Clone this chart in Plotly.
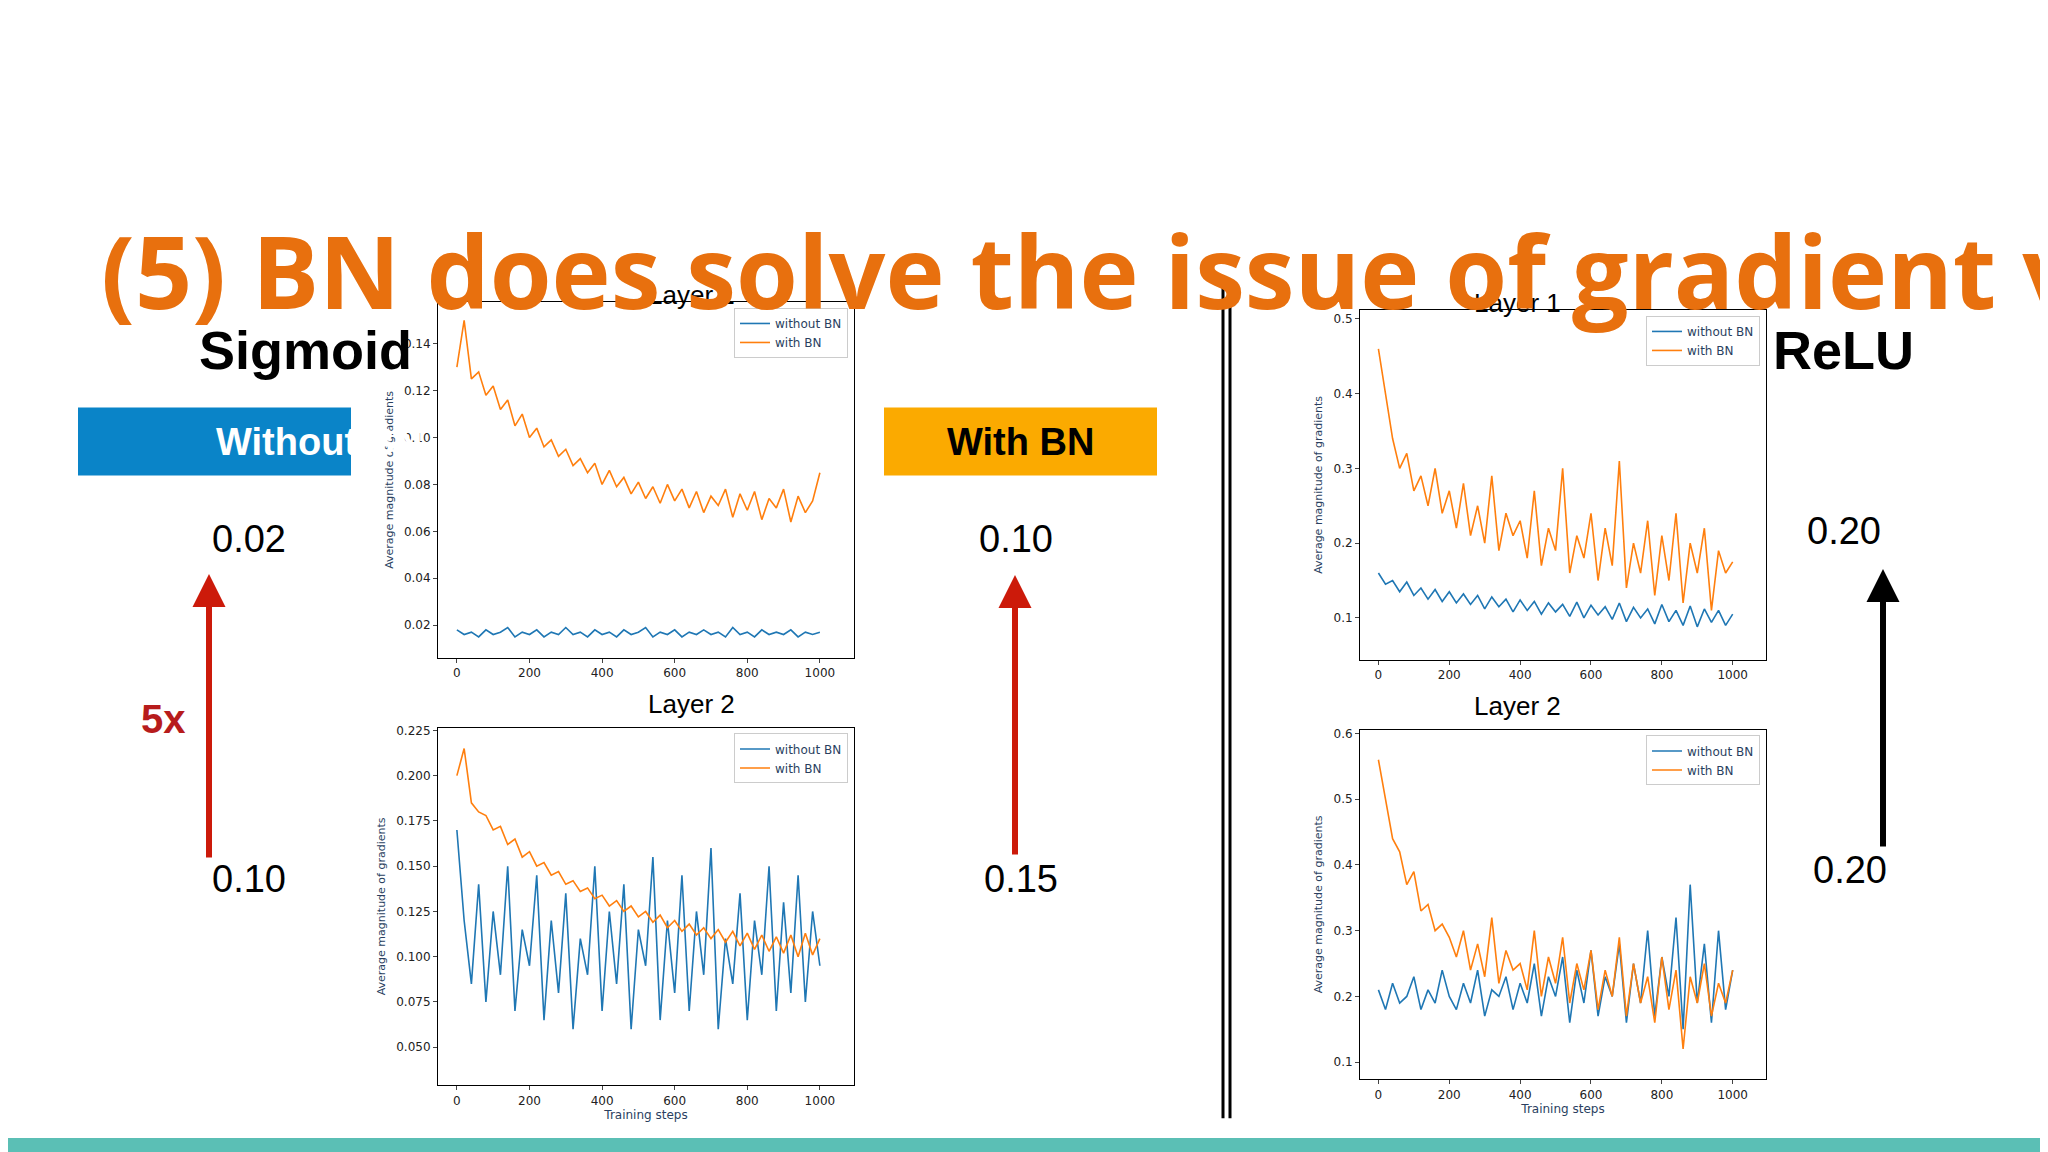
import plotly.graph_objects as go

W, H = 2048, 1152
BLUE = '#1f77b4'
ORANGE = '#ff7f0e'

steps = list(range(0, 1001, 20))

sig1_without = [0.018, 0.016, 0.017, 0.015, 0.018, 0.016, 0.017, 0.019, 0.015, 0.017,
                0.016, 0.018, 0.015, 0.017, 0.016, 0.019, 0.016, 0.017, 0.015, 0.018,
                0.016, 0.017, 0.015, 0.018, 0.016, 0.017, 0.019, 0.015, 0.017, 0.016,
                0.018, 0.015, 0.017, 0.016, 0.018, 0.016, 0.017, 0.015, 0.019, 0.016,
                0.017, 0.015, 0.018, 0.016, 0.017, 0.016, 0.018, 0.015, 0.017, 0.016,
                0.017]
sig1_with = [0.130, 0.150, 0.125, 0.128, 0.118, 0.122, 0.112, 0.116, 0.105, 0.110,
             0.100, 0.104, 0.096, 0.099, 0.092, 0.095, 0.088, 0.091, 0.085, 0.089,
             0.080, 0.086, 0.079, 0.083, 0.076, 0.081, 0.074, 0.079, 0.072, 0.080,
             0.073, 0.078, 0.070, 0.077, 0.068, 0.075, 0.071, 0.078, 0.066, 0.076,
             0.069, 0.077, 0.065, 0.074, 0.070, 0.078, 0.064, 0.075, 0.068, 0.073,
             0.085]
sig2_without = [0.170, 0.120, 0.085, 0.140, 0.075, 0.125, 0.090, 0.150, 0.070, 0.115,
                0.095, 0.145, 0.065, 0.120, 0.080, 0.135, 0.060, 0.110, 0.090, 0.150,
                0.070, 0.125, 0.085, 0.140, 0.060, 0.115, 0.095, 0.155, 0.065, 0.120,
                0.080, 0.145, 0.070, 0.125, 0.090, 0.160, 0.060, 0.110, 0.085, 0.135,
                0.065, 0.120, 0.090, 0.150, 0.070, 0.130, 0.080, 0.145, 0.075, 0.125,
                0.095]
sig2_with = [0.200, 0.215, 0.185, 0.180, 0.178, 0.170, 0.172, 0.162, 0.165, 0.155,
             0.158, 0.150, 0.152, 0.145, 0.147, 0.140, 0.142, 0.136, 0.138, 0.132,
             0.134, 0.128, 0.131, 0.125, 0.128, 0.122, 0.125, 0.119, 0.123, 0.116,
             0.120, 0.114, 0.118, 0.112, 0.116, 0.110, 0.115, 0.108, 0.114, 0.106,
             0.113, 0.104, 0.112, 0.103, 0.111, 0.102, 0.112, 0.100, 0.113, 0.101,
             0.110]
relu1_without = [0.160, 0.145, 0.150, 0.135, 0.148, 0.130, 0.140, 0.125, 0.138, 0.122,
                 0.135, 0.120, 0.132, 0.118, 0.130, 0.112, 0.128, 0.115, 0.125, 0.108,
                 0.124, 0.110, 0.122, 0.105, 0.120, 0.108, 0.118, 0.102, 0.121, 0.100,
                 0.117, 0.104, 0.115, 0.098, 0.120, 0.095, 0.114, 0.100, 0.112, 0.092,
                 0.118, 0.095, 0.110, 0.090, 0.116, 0.088, 0.112, 0.094, 0.110, 0.090,
                 0.105]
relu1_with = [0.460, 0.400, 0.340, 0.300, 0.320, 0.270, 0.290, 0.250, 0.300, 0.240,
              0.270, 0.220, 0.280, 0.210, 0.250, 0.200, 0.290, 0.190, 0.240, 0.210,
              0.230, 0.180, 0.270, 0.170, 0.220, 0.190, 0.300, 0.160, 0.210, 0.180,
              0.240, 0.150, 0.220, 0.170, 0.310, 0.140, 0.200, 0.160, 0.230, 0.130,
              0.210, 0.150, 0.240, 0.120, 0.200, 0.160, 0.220, 0.110, 0.190, 0.160,
              0.175]
relu2_without = [0.210, 0.180, 0.220, 0.190, 0.200, 0.230, 0.180, 0.210, 0.190, 0.240,
                 0.200, 0.180, 0.220, 0.190, 0.240, 0.170, 0.210, 0.200, 0.230, 0.180,
                 0.220, 0.190, 0.250, 0.170, 0.230, 0.200, 0.260, 0.160, 0.240, 0.190,
                 0.270, 0.170, 0.230, 0.200, 0.280, 0.160, 0.250, 0.190, 0.300, 0.170,
                 0.260, 0.200, 0.320, 0.150, 0.370, 0.190, 0.280, 0.160, 0.300, 0.180,
                 0.240]
relu2_with = [0.560, 0.500, 0.440, 0.420, 0.370, 0.390, 0.330, 0.340, 0.300, 0.310,
              0.290, 0.260, 0.300, 0.240, 0.280, 0.230, 0.320, 0.220, 0.270, 0.240,
              0.250, 0.210, 0.300, 0.200, 0.260, 0.220, 0.290, 0.190, 0.250, 0.210,
              0.270, 0.180, 0.240, 0.200, 0.290, 0.170, 0.250, 0.190, 0.230, 0.160,
              0.260, 0.180, 0.240, 0.120, 0.230, 0.190, 0.250, 0.170, 0.220, 0.190,
              0.240]


def px(x):
    return x / W


def py(y):
    return 1 - y / H


# (name, box px [x0, x1, y0, y1], y range, tick values, tick format, series, xlabel)
panels = [
    ('Layer 1', (430, 846, 291, 648), [0.0061, 0.1578], [0.02, 0.04, 0.06, 0.08, 0.10, 0.12, 0.14],
     '.2f', sig1_without, sig1_with, False),
    ('Layer 2', (430, 846, 718, 1077), [0.029, 0.2266],
     [0.05, 0.075, 0.1, 0.125, 0.15, 0.175, 0.2, 0.225], '.3f', sig2_without, sig2_with, True),
    ('Layer 1', (1352, 1758, 299, 650), [0.044, 0.512], [0.1, 0.2, 0.3, 0.4, 0.5],
     '.1f', relu1_without, relu1_with, False),
    ('Layer 2', (1352, 1758, 720, 1071), [0.074, 0.606], [0.1, 0.2, 0.3, 0.4, 0.5, 0.6],
     '.1f', relu2_without, relu2_with, True),
]

fig = go.Figure()
layout = {}
annotations = []
for i, (name, box, yr, tv, tf, s_no, s_bn, xlab) in enumerate(panels):
    n = i + 1
    sx = '' if n == 1 else str(n)
    leg = 'legend' if n == 1 else 'legend' + str(n)
    x0, x1, y0, y1 = box
    fig.add_trace(go.Scatter(x=steps, y=s_no, mode='lines', name='without BN',
                             line=dict(color=BLUE, width=1.6),
                             xaxis='x' + sx, yaxis='y' + sx, legend=leg))
    fig.add_trace(go.Scatter(x=steps, y=s_bn, mode='lines', name='with BN',
                             line=dict(color=ORANGE, width=1.6),
                             xaxis='x' + sx, yaxis='y' + sx, legend=leg))
    axis_common = dict(showline=True, linecolor='black', linewidth=1, mirror=True,
                       ticks='outside', ticklen=4, showgrid=False, zeroline=False,
                       tickfont=dict(size=12, color='#222', family='DejaVu Sans'))
    layout['xaxis' + sx] = dict(domain=[px(x0), px(x1)], anchor='y' + sx, range=[-52, 1094],
                                tickvals=[0, 200, 400, 600, 800, 1000],
                                title=dict(text='Training steps' if xlab else '',
                                           font=dict(size=12, family='DejaVu Sans'),
                                           standoff=2),
                                **axis_common)
    layout['yaxis' + sx] = dict(domain=[py(y1), py(y0)], anchor='x' + sx, range=yr,
                                tickvals=tv, tickformat=tf,
                                title=dict(text='Average magnitude of gradients',
                                           font=dict(size=11, family='DejaVu Sans'),
                                           standoff=8),
                                **axis_common)
    layout[leg] = dict(x=px(x1 - 6), y=py(y0 + 6), xanchor='right', yanchor='top',
                       bgcolor='white', bordercolor='#ccc', borderwidth=1,
                       font=dict(size=12, family='DejaVu Sans'), tracegroupgap=0)
    annotations.append(dict(text=name, x=px((x0 + x1) / 2), y=py(y0 - 24), xref='paper',
                            yref='paper', showarrow=False,
                            font=dict(size=26, color='black', family='Liberation Sans')))

fig.update_layout(**layout)

sans = 'Liberation Sans'
texts = [
    ('Sigmoid', 189, 307, 54, 'black', True),
    ('ReLU', 1908, 307, 54, 'black', True),
    ('0.02', 202, 529, 38, 'black', False),
    ('0.10', 202, 893, 38, 'black', False),
    ('0.10', 1008, 529, 38, 'black', False),
    ('0.15', 1013, 893, 38, 'black', False),
    ('0.20', 1875, 521, 38, 'black', False),
    ('0.20', 1881, 884, 38, 'black', False),
    ('5x', 131, 709, 40, '#b71c1c', True),
]
for t, x, y, size, col, bold in texts:
    annotations.append(dict(text='<b>%s</b>' % t if bold else t, x=px(x), y=py(y),
                            xref='paper', yref='paper', showarrow=False,
                            font=dict(size=size, color=col, family=sans)))

annotations.append(dict(text='<b>(5) BN does solve the issue of gradient vanishing</b>',
                        x=px(91), y=py(189), xref='paper', yref='paper', xanchor='left',
                        showarrow=False,
                        font=dict(size=100, color='#E8700E',
                                  family='Liberation Sans Narrow, Open Sans')))
annotations.append(dict(text='<b>Without BN</b>', x=px(206), y=py(431), xref='paper',
                        yref='paper', showarrow=False,
                        font=dict(size=38, color='white', family=sans)))
annotations.append(dict(text='<b>With BN</b>', x=px(1012), y=py(431), xref='paper',
                        yref='paper', showarrow=False,
                        font=dict(size=38, color='black', family=sans)))

# arrows
for x, yb, yt, col in [(201, 849, 564, '#cc1a0a'), (1007, 846, 565, '#cc1a0a'),
                       (1875, 838, 559, 'black')]:
    annotations.append(dict(x=px(x), y=py(yt), ax=0, ay=yb - yt, xref='paper',
                            yref='paper', axref='pixel', ayref='pixel', text='',
                            showarrow=True, arrowhead=2, arrowsize=1.1, arrowwidth=6,
                            arrowcolor=col))

shapes = [
    dict(type='rect', xref='paper', yref='paper', x0=px(70), x1=px(343), y0=py(465),
         y1=py(397), fillcolor='#0A84C8', line=dict(width=0)),
    dict(type='rect', xref='paper', yref='paper', x0=px(876), x1=px(1149), y0=py(465),
         y1=py(397), fillcolor='#FBAA00', line=dict(width=0)),
    dict(type='line', xref='paper', yref='paper', x0=px(1215), x1=px(1215), y0=py(272),
         y1=py(1110), line=dict(color='black', width=3)),
    dict(type='line', xref='paper', yref='paper', x0=px(1222), x1=px(1222), y0=py(272),
         y1=py(1110), line=dict(color='black', width=3)),
    dict(type='rect', xref='paper', yref='paper', x0=0, x1=1, y0=0, y1=py(1130),
         fillcolor='#5BBFB5', line=dict(width=0)),
]

fig.update_layout(width=W, height=H, margin=dict(l=0, r=0, t=0, b=0),
                  paper_bgcolor='white', plot_bgcolor='white',
                  annotations=annotations, shapes=shapes)

fig.write_html('out.html')
